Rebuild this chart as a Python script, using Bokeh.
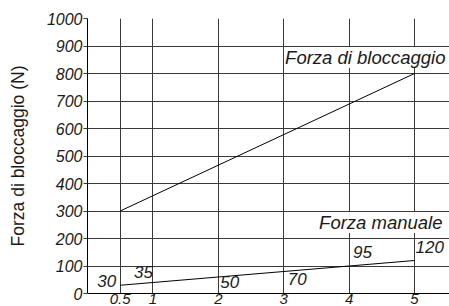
from bokeh.plotting import figure
from bokeh.models import Label, FixedTicker, Range1d
from bokeh.embed import file_html
from bokeh.resources import INLINE

# ---- data ----
x_ticks = [0.5, 1, 2, 3, 4, 5]
x_tick_labels = ["0.5", "1", "2", "3", "4", "5"]
y_ticks = [0, 100, 200, 300, 400, 500, 600, 700, 800, 900, 1000]

block_x = [0.5, 5]
block_y = [300, 800]

manual_line_x = [0.5, 5]
manual_line_y = [30, 120]

manual_x = [0.5, 1, 2, 3, 4, 5]
manual_vals = [30, 35, 50, 70, 95, 120]

series_names = ["Forza di bloccaggio", "Forza manuale"]
y_title = "Forza di bloccaggio (N)"

# ---- layout / style ----
FONT = "Liberation Sans"
GRID = "#3a3a3a"
TXT = "#1a1a1a"

p = figure(width=449, height=306, output_backend="svg", toolbar_location=None,
           x_range=Range1d(0, 5.535), y_range=Range1d(0, 1000),
           min_border_left=87, min_border_right=0, min_border_top=18, min_border_bottom=10)
p.outline_line_color = None
p.background_fill_color = "white"
p.border_fill_color = "white"

p.xaxis.ticker = FixedTicker(ticks=x_ticks)
p.xaxis.major_label_overrides = {t: l for t, l in zip(x_ticks, x_tick_labels)}
p.yaxis.ticker = FixedTicker(ticks=y_ticks)
p.xgrid.ticker = FixedTicker(ticks=x_ticks)
p.ygrid.ticker = FixedTicker(ticks=y_ticks)

for g in (p.xgrid, p.ygrid):
    g.grid_line_color = GRID
    g.grid_line_width = 1

for ax in (p.xaxis, p.yaxis):
    ax.axis_line_color = "black"
    ax.axis_line_width = 1
    ax.major_tick_in = 0
    ax.minor_tick_line_color = None
    ax.major_label_text_font = FONT
    ax.major_label_text_font_style = "italic"
    ax.major_label_text_color = TXT

p.xaxis.major_tick_out = 0
p.xaxis.major_label_standoff = 0
p.xaxis.major_label_text_font_size = "15px"
p.yaxis.major_tick_out = 4
p.yaxis.major_tick_line_color = GRID
p.yaxis.major_label_standoff = 1
p.yaxis.major_label_text_font_size = "16px"

p.yaxis.axis_label = y_title
p.yaxis.axis_label_text_font = FONT
p.yaxis.axis_label_text_font_style = "normal"
p.yaxis.axis_label_text_font_size = "17.5px"
p.yaxis.axis_label_text_color = TXT
p.yaxis.axis_label_standoff = 16

# lines
p.line(block_x, block_y, line_color="black", line_width=1)
p.line(manual_line_x, manual_line_y, line_color="black", line_width=1)

# series name labels (white background boxes)
p.add_layout(Label(x=block_x[-1], y=block_y[-1], x_offset=31, y_offset=16,
                   text=series_names[0], text_align="right", text_baseline="alphabetic",
                   text_font=FONT, text_font_style="italic", text_font_size="18.5px",
                   text_color=TXT, background_fill_color="white", padding=0))
p.add_layout(Label(x=manual_line_x[-1], y=manual_line_y[-1], x_offset=28, y_offset=38,
                   text=series_names[1], text_align="right", text_baseline="alphabetic",
                   text_font=FONT, text_font_style="italic", text_font_size="18.5px",
                   text_color=TXT, background_fill_color="white", padding=0))

# value labels: (align, dx, dy) in screen px relative to each point
value_layout = [("right", -4, 4), ("right", 0, 12), ("left", 2, -2),
                ("left", 4, -5), ("left", 4, 15), ("left", 1, 14)]
for xv, v, (al, dx, dy) in zip(manual_x, manual_vals, value_layout):
    p.add_layout(Label(x=xv, y=v, x_offset=dx, y_offset=dy, text=str(v),
                       text_align=al, text_baseline="alphabetic",
                       text_font=FONT, text_font_style="italic", text_font_size="17px",
                       text_color=TXT))

open("out.html", "w").write(file_html(p, INLINE))
